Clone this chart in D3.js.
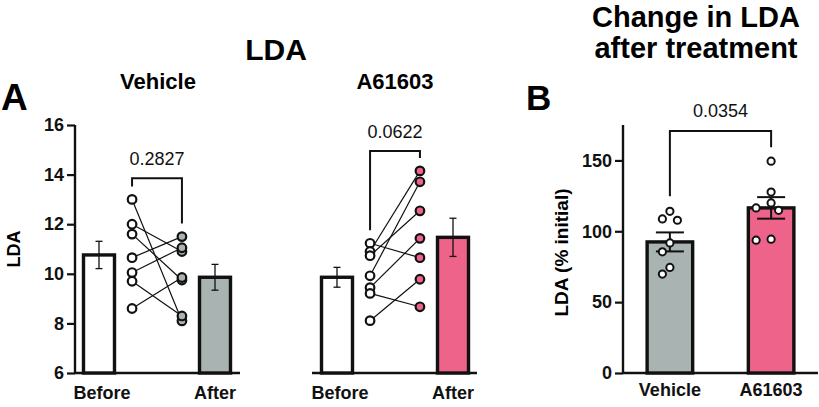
<!DOCTYPE html>
<html><head><meta charset="utf-8">
<script src="https://cdn.jsdelivr.net/npm/d3@7"></script>
<style>
body{margin:0;background:#fff;}
svg{display:block;font-family:"Liberation Sans",Arial,Helvetica,sans-serif;}
</style></head>
<body>
<svg id="c" width="819" height="407"></svg>
<script>
// ---------- DATA ----------
const phases = ["Before", "After"];
const groups = ["Vehicle", "A61603"];
// Panel A paired values (LDA)
const vehBefore = [13.0, 12.0, 11.6, 10.65, 10.05, 9.7, 8.6];
const vehAfter  = [8.1, 10.9, 9.75, 11.5, 11.05, 8.3, 9.85];
const a6Before  = [11.23, 10.9, 10.73, 9.92, 9.44, 9.21, 8.11];
const a6After   = [10.65, 14.15, 12.54, 13.71, 11.43, 8.67, 9.78];
// Panel A bar means and SEM
const vehMeans = [10.76, 9.86];
const vehSem   = [0.55, 0.52];
const a6Means  = [9.86, 11.47];
const a6Sem    = [0.4, 0.77];
const pA = ["0.2827", "0.0622"];
const ticksA = [6, 8, 10, 12, 14, 16];
// Panel B: % initial
const bVehicle = [114.1, 108.7, 107.8, 91.8, 85.5, 74.5, 69.8];
const bA6      = [149.5, 127.7, 120.0, 116.5, 114.8, 94.4, 93.7];
const bMeans = [92.5, 116.5];
const bSem   = [6.7, 7.6];
const pB = "0.0354";
const ticksB = [0, 50, 100, 150];

const GREY = "#a9b4b2", PINK = "#ee6389";
const svg = d3.select("#c");

// ---------- PANEL A ----------
const yA = d3.scaleLinear().domain([6, 16]).range([373, 125]);
const axA = svg.append("g").attr("transform", "translate(75,0)")
  .call(d3.axisLeft(yA).tickValues(ticksA).tickSize(8).tickPadding(3).tickFormat(d3.format("d")));
axA.select(".domain").attr("stroke", "#111").attr("stroke-width", 2.4).attr("d", `M0,${yA(6)}V${yA(16)}`);
axA.selectAll(".tick line").attr("stroke", "#111").attr("stroke-width", 2.2);
axA.selectAll(".tick text").attr("font-size", 18).attr("font-weight", "bold").attr("fill", "#111");

svg.append("text").attr("transform", `translate(20,${yA(11)}) rotate(-90)`)
  .attr("text-anchor", "middle").attr("font-size", 18).attr("font-weight", "bold").text("LDA");

function pairedPanel(x0, x1, before, after, means, sem, fillAfter, pval, pTop, baseL, baseR) {
  const x = d3.scaleLinear().domain([0, 1]).range([x0, x1]);
  const bw = 31;
  const g = svg.append("g");
  g.append("line").attr("x1", baseL).attr("x2", baseR).attr("y1", yA(6)).attr("y2", yA(6))
    .attr("stroke", "#111").attr("stroke-width", 2.4);
  g.selectAll("rect.bar").data(means).join("rect")
    .attr("x", (d, i) => x(i) - bw / 2).attr("width", bw)
    .attr("y", d => yA(d)).attr("height", d => yA(6) - yA(d))
    .attr("fill", (d, i) => i === 0 ? "#fff" : fillAfter)
    .attr("stroke", "#111").attr("stroke-width", 3.4);
  means.forEach((m, i) => {
    const cx = x(i), hw = 7;
    g.append("line").attr("x1", cx).attr("x2", cx).attr("y1", yA(m + sem[i])).attr("y2", yA(m - sem[i])).attr("stroke", "#111").attr("stroke-width", 1.3);
    [m + sem[i], m - sem[i]].forEach(v => g.append("line").attr("x1", cx - hw / 2).attr("x2", cx + hw / 2).attr("y1", yA(v)).attr("y2", yA(v)).attr("stroke", "#111").attr("stroke-width", 1.3));
  });
  const px0 = x(0.285), px1 = x(0.715);
  g.selectAll("line.pair").data(before).join("line")
    .attr("x1", px0).attr("x2", px1).attr("y1", d => yA(d)).attr("y2", (d, i) => yA(after[i]))
    .attr("stroke", "#111").attr("stroke-width", 1.2);
  g.selectAll("circle.b").data(before).join("circle")
    .attr("cx", px0).attr("cy", d => yA(d)).attr("r", 4.3)
    .attr("fill", "#fff").attr("stroke", "#111").attr("stroke-width", 2.2);
  g.selectAll("circle.a").data(after).join("circle")
    .attr("cx", px1).attr("cy", d => yA(d)).attr("r", 4.3)
    .attr("fill", fillAfter).attr("stroke", "#111").attr("stroke-width", 2.2);
  const topY = yA(pTop);
  const lY = yA(d3.max(before)) - 13, rY = yA(d3.max(after)) - 13;
  g.append("path").attr("d", `M${px0},${lY}V${topY}H${px1}V${rY}`)
    .attr("fill", "none").attr("stroke", "#111").attr("stroke-width", 2);
  g.append("text").attr("x", (px0 + px1) / 2).attr("y", topY - 13).attr("text-anchor", "middle")
    .attr("font-size", 18).attr("fill", "#111").text(pval);
  g.selectAll("text.cat").data(phases).join("text")
    .attr("x", (d, i) => x(i) + (i === 0 ? 3 : 0)).attr("y", 399).attr("text-anchor", "middle")
    .attr("font-size", 18).attr("font-weight", "bold").attr("fill", "#111").text(d => d);
}
pairedPanel(99, 215, vehBefore, vehAfter, vehMeans, vehSem, GREY, pA[0], 13.85, 75, 240);
pairedPanel(337, 453, a6Before, a6After, a6Means, a6Sem, PINK, pA[1], 14.95, 312, 477);

svg.append("text").attr("x", 158).attr("y", 89).attr("text-anchor", "middle").attr("font-size", 22).attr("font-weight", "bold").text(groups[0]);
svg.append("text").attr("x", 395).attr("y", 89).attr("text-anchor", "middle").attr("font-size", 22).attr("font-weight", "bold").text(groups[1]);
svg.append("text").attr("x", 276).attr("y", 60).attr("text-anchor", "middle").attr("font-size", 30).attr("font-weight", "bold").text("LDA");
svg.append("text").attr("x", 1).attr("y", 110).attr("font-size", 37).attr("font-weight", "bold").text("A");

// ---------- PANEL B ----------
const yB = d3.scaleLinear().domain([0, 175]).range([373, 125]);
const xB = d3.scaleBand().domain(groups).range([637, 804]).paddingInner(0.55).paddingOuter(0.1);
const axB = svg.append("g").attr("transform", "translate(623,0)")
  .call(d3.axisLeft(yB).tickValues(ticksB).tickSize(8).tickPadding(3).tickFormat(d3.format("d")));
axB.select(".domain").attr("stroke", "#111").attr("stroke-width", 2.4).attr("d", `M0,${yB(0)}V${yB(175)}`);
axB.selectAll(".tick line").attr("stroke", "#111").attr("stroke-width", 2.2);
axB.selectAll(".tick text").attr("font-size", 18).attr("font-weight", "bold").attr("fill", "#111");
svg.append("line").attr("x1", 623).attr("x2", 818).attr("y1", yB(0)).attr("y2", yB(0)).attr("stroke", "#111").attr("stroke-width", 2.4);

svg.append("text").attr("transform", `translate(568,${yB(85)}) rotate(-90)`)
  .attr("text-anchor", "middle").attr("font-size", 19).attr("font-weight", "bold").text("LDA (% initial)");

const bw = xB.bandwidth();
svg.selectAll("rect.bb").data(bMeans).join("rect")
  .attr("x", (d, i) => xB(groups[i])).attr("width", bw)
  .attr("y", d => yB(d)).attr("height", d => yB(0) - yB(d))
  .attr("fill", (d, i) => i === 0 ? GREY : PINK).attr("stroke", "#111").attr("stroke-width", 3.4);
bMeans.forEach((m, i) => {
  const cx = xB(groups[i]) + bw / 2, hw = 28;
  svg.append("line").attr("x1", cx).attr("x2", cx).attr("y1", yB(m + bSem[i])).attr("y2", yB(m - bSem[i])).attr("stroke", "#111").attr("stroke-width", 2);
  [m + bSem[i], m - bSem[i]].forEach(v => svg.append("line").attr("x1", cx - hw / 2).attr("x2", cx + hw / 2).attr("y1", yB(v)).attr("y2", yB(v)).attr("stroke", "#111").attr("stroke-width", 2));
});
function swarm(vals, cx) {
  const placed = [], step = 7.5, minD = 9;
  return vals.map(v => {
    const y = yB(v);
    for (let k = 0; k < 10; k++) {
      const off = k === 0 ? 0 : (k % 2 ? -1 : 1) * Math.ceil(k / 2) * step;
      const ok = placed.every(p => Math.hypot(p.x - (cx + off), p.y - y) >= minD);
      if (ok) { const p = {x: cx + off, y}; placed.push(p); return p; }
    }
    return {x: cx, y};
  });
}
[bVehicle, bA6].forEach((vals, i) => {
  const pts = swarm(vals, xB(groups[i]) + bw / 2);
  svg.selectAll(null).data(pts).join("circle")
    .attr("cx", d => d.x).attr("cy", d => d.y).attr("r", 3.6)
    .attr("fill", "#fff").attr("stroke", "#111").attr("stroke-width", 2);
});
const cxV = xB(groups[0]) + bw / 2, cxA = xB(groups[1]) + bw / 2;
const topB = 131;
svg.append("path").attr("d", `M${cxV},${yB(d3.max(bVehicle)) - 15}V${topB}H${cxA}V${yB(d3.max(bA6)) - 14}`)
  .attr("fill", "none").attr("stroke", "#111").attr("stroke-width", 2);
svg.append("text").attr("x", (cxV + cxA) / 2).attr("y", 117).attr("text-anchor", "middle").attr("font-size", 18).attr("fill", "#111").text(pB);
svg.selectAll("text.cb").data(groups).join("text")
  .attr("x", d => xB(d) + bw / 2).attr("y", 396).attr("text-anchor", "middle")
  .attr("font-size", 18).attr("font-weight", "bold").attr("fill", "#111").text(d => d);

svg.append("text").attr("x", 696).attr("y", 27).attr("text-anchor", "middle").attr("font-size", 29).attr("font-weight", "bold").text("Change in LDA");
svg.append("text").attr("x", 696).attr("y", 58).attr("text-anchor", "middle").attr("font-size", 29).attr("font-weight", "bold").text("after treatment");
svg.append("text").attr("x", 526).attr("y", 110).attr("font-size", 35).attr("font-weight", "bold").text("B");
</script>
</body></html>
